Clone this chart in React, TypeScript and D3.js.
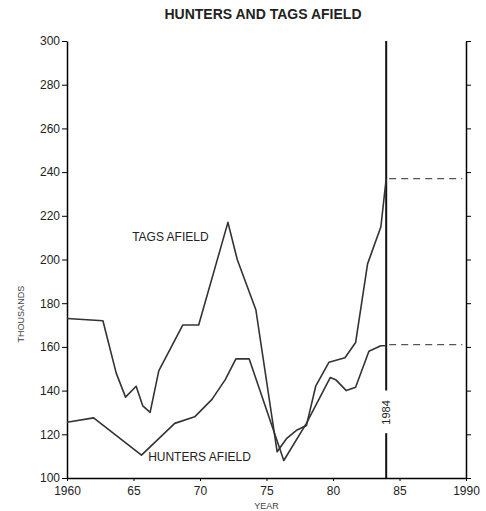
import React, { useEffect, useRef } from "react";
import * as d3 from "d3";

const title = "HUNTERS AND TAGS AFIELD";
const yTicks = [100, 120, 140, 160, 180, 200, 220, 240, 260, 280, 300];
const xTicks = [1960, 1965, 1970, 1975, 1980, 1985, 1990];
const xTickLabels = ["1960", "65", "70", "75", "80", "85", "1990"];

const tagsYears = [1960, 1962.7, 1963.7, 1964.4, 1965.2, 1965.7, 1966.25, 1966.9, 1968.7, 1969.9, 1972.1, 1972.8, 1974.2, 1975.8, 1976.5, 1977.3, 1978, 1978.7, 1979.7, 1980.9, 1981.7, 1982.6, 1983.6, 1984];
const tagsValues = [173, 172, 148, 137, 142, 133, 130, 149, 170, 170, 217, 200, 177, 112, 118, 122, 124, 142, 153, 155, 162, 198, 215, 237];

const huntersYears = [1960, 1962, 1965.6, 1968.1, 1969.6, 1970.9, 1971.9, 1972.7, 1973.7, 1976.3, 1978, 1979.8, 1980.2, 1981, 1981.7, 1982.7, 1983.6, 1984];
const huntersValues = [125.5, 127.5, 110.5, 125, 128, 136, 145, 154.5, 154.5, 108, 125, 146, 145, 140, 141.5, 158, 160.5, 160.5];

const projYears = [1984, 1989.5];
const tagsProjection = [237, 237];
const huntersProjection = [161, 161];

const markerYear = 1984;

export default function App() {
  const ref = useRef<SVGSVGElement>(null);

  useEffect(() => {
    const svg = d3.select(ref.current);
    svg.selectAll("*").remove();
    const font = "'Liberation Sans', Arial, sans-serif";

    const x = d3.scaleLinear().domain([1960, 1990]).range([67, 466]);
    const y = d3.scaleLinear().domain([100, 300]).range([478, 41]);

    svg.append("text")
      .attr("x", 263).attr("y", 19)
      .attr("text-anchor", "middle")
      .attr("font-family", font).attr("font-weight", "bold")
      .attr("font-size", 14).attr("fill", "#222")
      .text(title);

    const left = svg.append("g").attr("transform", `translate(${x(1960)},0)`)
      .call(d3.axisLeft(y).tickValues(yTicks).tickSize(5).tickPadding(2).tickSizeOuter(0));
    left.selectAll("text").attr("font-family", font).attr("font-size", 12).attr("fill", "#222");
    left.select(".domain").attr("stroke-width", 1.5);

    const right = svg.append("g").attr("transform", `translate(${x(1990)},0)`)
      .call(d3.axisRight(y).tickValues(yTicks).tickSize(5).tickFormat(() => "").tickSizeOuter(0));
    right.select(".domain").attr("stroke-width", 1.5);

    const bottom = svg.append("g").attr("transform", `translate(0,${y(100)})`)
      .call(d3.axisBottom(x).tickValues(xTicks).tickSize(3).tickPadding(5).tickSizeOuter(0)
        .tickFormat((d, i) => xTickLabels[i]));
    bottom.selectAll("text").attr("font-family", font).attr("font-size", 12).attr("fill", "#222");
    bottom.select(".domain").attr("stroke-width", 1.5);

    svg.append("text")
      .attr("x", x(1975)).attr("y", 509)
      .attr("text-anchor", "middle").attr("font-family", font)
      .attr("font-size", 9).attr("fill", "#444").text("YEAR");
    svg.append("text")
      .attr("transform", `translate(24,${y(175)}) rotate(-90)`)
      .attr("text-anchor", "middle").attr("font-family", font)
      .attr("font-size", 9).attr("fill", "#444").text("THOUSANDS");

    const mx = x(markerYear);
    svg.append("line").attr("x1", mx).attr("x2", mx).attr("y1", y(300)).attr("y2", y(140))
      .attr("stroke", "#111").attr("stroke-width", 2);
    svg.append("line").attr("x1", mx).attr("x2", mx).attr("y1", y(120.5)).attr("y2", y(100))
      .attr("stroke", "#111").attr("stroke-width", 2);
    svg.append("text")
      .attr("transform", `translate(${mx},${y(130)}) rotate(-90)`)
      .attr("text-anchor", "middle").attr("dominant-baseline", "central")
      .attr("font-family", font)
      .attr("font-size", 11).attr("fill", "#222").text("1984");

    const line = d3.line<[number, number]>().x(d => x(d[0])).y(d => y(d[1]));

    const tags = tagsYears.map((yr, i) => [yr, tagsValues[i]] as [number, number]);
    const hunters = huntersYears.map((yr, i) => [yr, huntersValues[i]] as [number, number]);

    svg.append("path").attr("d", line(tags)!).attr("fill", "none")
      .attr("stroke", "#333").attr("stroke-width", 1.6).attr("stroke-linejoin", "round");
    svg.append("path").attr("d", line(hunters)!).attr("fill", "none")
      .attr("stroke", "#333").attr("stroke-width", 1.6).attr("stroke-linejoin", "round");

    const tp = projYears.map((yr, i) => [yr, tagsProjection[i]] as [number, number]);
    const hp = projYears.map((yr, i) => [yr, huntersProjection[i]] as [number, number]);
    [tp, hp].forEach(p => {
      svg.append("path").attr("d", line(p)!).attr("fill", "none")
        .attr("stroke", "#555").attr("stroke-width", 1.3).attr("stroke-dasharray", "7,5")
        .attr("transform", "translate(3,0)");
    });

    svg.append("text")
      .attr("x", x(1964.9)).attr("y", y(208.5))
      .attr("font-family", font).attr("font-size", 12).attr("fill", "#222")
      .text("TAGS AFIELD");
    svg.append("text")
      .attr("x", x(1966.1)).attr("y", y(108))
      .attr("font-family", font).attr("font-size", 12).attr("fill", "#222")
      .text("HUNTERS AFIELD");
  }, []);

  return (
    <svg ref={ref} width={486} height={511}
      style={{ position: "absolute", left: 0, top: 0, background: "#fff" }} />
  );
}
